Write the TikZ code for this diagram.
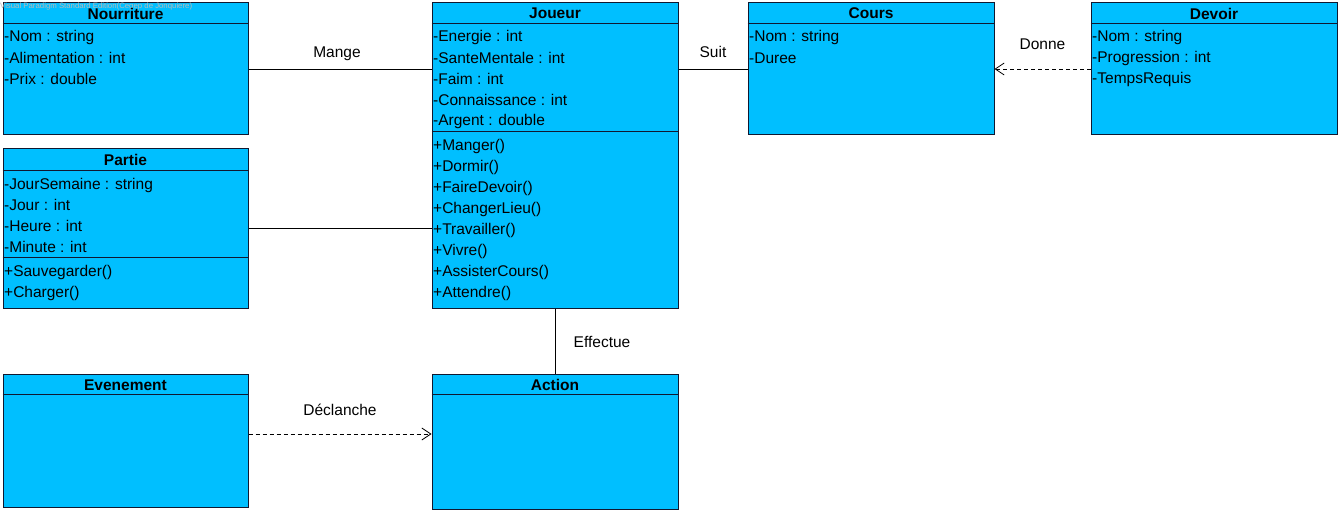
\documentclass[tikz,border=0pt]{standalone}
\usepackage{fontspec}
\setmainfont{Liberation Sans}
\usetikzlibrary{arrows.meta}
\definecolor{classfill}{RGB}{0,191,255}
\definecolor{classline}{RGB}{16,24,48}

\begin{document}
\begin{tikzpicture}[x=1pt, y=-1pt, font=\fontsize{15.5}{18}\selectfont]

        % Styles
        \tikzstyle{classbox} = [draw=classline, line width=1pt, fill=classfill, inner sep=0pt]
        \tikzstyle{classname} = [font=\fontsize{15.5}{18}\selectfont\bfseries, inner sep=0pt]
        \tikzstyle{member} = [anchor=west, inner sep=1pt, yshift=-1pt]
        \tikzstyle{compart} = [draw=classline, line width=1pt]
        \tikzstyle{assoc} = [draw=black, line width=0.8pt]
        \tikzstyle{depend} = [assoc, dash pattern=on 4pt off 3pt, -{Straight Barb[length=9pt, width=12pt]}]
        \tikzstyle{role} = [inner sep=0pt]

        \useasboundingbox (0,0) rectangle (1341,513);

        % Nourriture
        \node[classbox, minimum width=245pt, minimum height=132pt] (nourriture) at (125.5,69) {};
        \draw[compart] ([yshift=-21pt]nourriture.north west) -- ([yshift=-21pt]nourriture.north east);
        \node[anchor=west, text=gray!55, inner sep=0pt, font=\fontsize{7.8}{8}\selectfont] (watermark) at (0,6) {Visual Paradigm Standard Edition(Cegep de Jonquiere)};
        \node[classname] (nourriture-t) at (125.5,13.5) {Nourriture};
        \node[member] (nourriture-a1) at (3,36) {-Nom : string};
        \node[member] (nourriture-a2) at (3,57) {-Alimentation : int};
        \node[member] (nourriture-a3) at (3,78) {-Prix : double};

        % Joueur
        \node[classbox, minimum width=246pt, minimum height=305pt] (joueur) at (555,155.5) {};
        \draw[compart] ([yshift=-21pt]joueur.north west) -- ([yshift=-21pt]joueur.north east);
        \draw[compart] ([yshift=-129pt]joueur.north west) -- ([yshift=-129pt]joueur.north east);
        \node[classname] (joueur-t) at (555,13.5) {Joueur};
        \node[member] (joueur-a1) at (432,36) {-Energie : int};
        \node[member] (joueur-a2) at (432,57) {-SanteMentale : int};
        \node[member] (joueur-a3) at (432,78) {-Faim : int};
        \node[member] (joueur-a4) at (432,99) {-Connaissance : int};
        \node[member] (joueur-a5) at (432,120) {-Argent : double};
        \node[member] (joueur-m1) at (432,145) {+Manger()};
        \node[member] (joueur-m2) at (432,166) {+Dormir()};
        \node[member] (joueur-m3) at (432,187) {+FaireDevoir()};
        \node[member] (joueur-m4) at (432,208) {+ChangerLieu()};
        \node[member] (joueur-m5) at (432,229) {+Travailler()};
        \node[member] (joueur-m6) at (432,250) {+Vivre()};
        \node[member] (joueur-m7) at (432,271) {+AssisterCours()};
        \node[member] (joueur-m8) at (432,292) {+Attendre()};

        % Cours
        \node[classbox, minimum width=246pt, minimum height=132pt] (cours) at (871,69) {};
        \draw[compart] ([yshift=-21pt]cours.north west) -- ([yshift=-21pt]cours.north east);
        \node[classname] (cours-t) at (871,13.5) {Cours};
        \node[member] (cours-a1) at (748,36) {-Nom : string};
        \node[member] (cours-a2) at (748,57) {-Duree};

        % Devoir
        \node[classbox, minimum width=246pt, minimum height=132pt] (devoir) at (1214,69) {};
        \draw[compart] ([yshift=-21pt]devoir.north west) -- ([yshift=-21pt]devoir.north east);
        \node[classname] (devoir-t) at (1214,13.5) {Devoir};
        \node[member] (devoir-a1) at (1091,36) {-Nom : string};
        \node[member] (devoir-a2) at (1091,57) {-Progression : int};
        \node[member] (devoir-a3) at (1091,78) {-TempsRequis};

        % Partie
        \node[classbox, minimum width=245pt, minimum height=159pt] (partie) at (125.5,228.5) {};
        \draw[compart] ([yshift=-22pt]partie.north west) -- ([yshift=-22pt]partie.north east);
        \draw[compart] ([yshift=-109pt]partie.north west) -- ([yshift=-109pt]partie.north east);
        \node[classname] (partie-t) at (125.5,160) {Partie};
        \node[member] (partie-a1) at (3,184) {-JourSemaine : string};
        \node[member] (partie-a2) at (3,204) {-Jour : int};
        \node[member] (partie-a3) at (3,225) {-Heure : int};
        \node[member] (partie-a4) at (3,246) {-Minute : int};
        \node[member] (partie-m1) at (3,271) {+Sauvegarder()};
        \node[member] (partie-m2) at (3,292) {+Charger()};

        % Evenement
        \node[classbox, minimum width=245pt, minimum height=133pt] (evenement) at (125.5,440.5) {};
        \draw[compart] ([yshift=-21pt]evenement.north west) -- ([yshift=-21pt]evenement.north east);
        \node[classname] (evenement-t) at (125.5,385) {Evenement};

        % Action
        \node[classbox, minimum width=246pt, minimum height=135pt] (action) at (555,441.5) {};
        \draw[compart] ([yshift=-21pt]action.north west) -- ([yshift=-21pt]action.north east);
        \node[classname] (action-t) at (555,385) {Action};

        % Associations
        \draw[assoc] (nourriture.east) -- node[role, midway, xshift=-3pt, yshift=15pt] (lbl-mange) {Mange} (nourriture.east -| joueur.west);
        \draw[assoc] (partie.east) -- (partie.east -| joueur.west);
        \draw[assoc] (joueur.east |- cours.west) -- node[role, midway, yshift=17pt] (lbl-suit) {Suit} (cours.west);
        \draw[assoc] (joueur.south) -- node[role, midway, xshift=47pt, yshift=-1pt] (lbl-effectue) {Effectue} (action.north);

        % Dependencies
        \draw[depend] (devoir.west) -- node[role, midway, yshift=25pt] (lbl-donne) {Donne} (cours.east);
        \draw[depend] ([yshift=6.5pt]evenement.east) -- node[role, midway, yshift=24pt] (lbl-declanche) {Déclanche} ([yshift=6.5pt]evenement.east -| action.west);

\end{tikzpicture}
\end{document}
